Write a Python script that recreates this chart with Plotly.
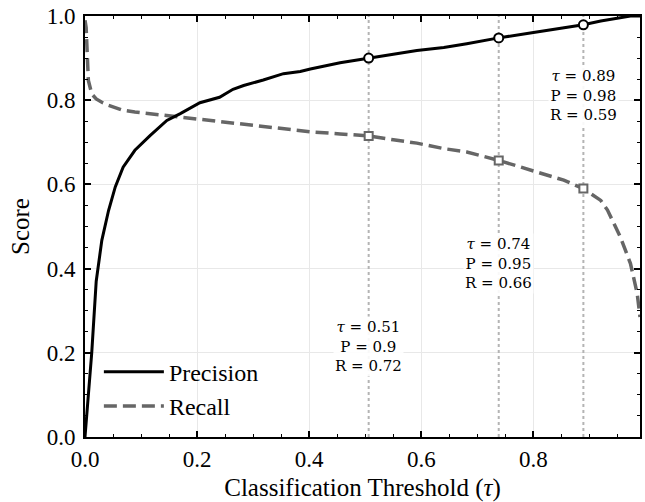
import plotly.graph_objects as go

# ---- data ----
thresholds = [0.0, 0.002, 0.006, 0.012, 0.02, 0.03, 0.042, 0.054, 0.068, 0.089,
              0.116, 0.146, 0.17, 0.205, 0.24, 0.264, 0.283, 0.318, 0.354, 0.384,
              0.402, 0.455, 0.506, 0.55, 0.592, 0.64, 0.681, 0.738, 0.8, 0.854,
              0.889, 0.92, 0.932, 0.955, 0.973, 0.985, 0.99]
precision = [0.0, 0.04, 0.10, 0.20, 0.37, 0.467, 0.538, 0.594, 0.641, 0.681,
             0.716, 0.752, 0.768, 0.794, 0.807, 0.826, 0.835, 0.848, 0.863, 0.868,
             0.874, 0.889, 0.899, 0.909, 0.918, 0.925, 0.934, 0.948, 0.961, 0.971,
             0.979, 0.988, 0.991, 0.997, 1.0, 1.0, 1.0]
recall = [0.99, 0.973, 0.847, 0.815, 0.803, 0.795, 0.788, 0.782, 0.776, 0.772,
          0.768, 0.764, 0.760, 0.755, 0.749, 0.745, 0.743, 0.739, 0.733, 0.728,
          0.725, 0.720, 0.715, 0.706, 0.698, 0.685, 0.677, 0.657, 0.633, 0.610,
          0.590, 0.562, 0.539, 0.475, 0.412, 0.341, 0.285]

sel_tau = [0.506, 0.738, 0.889]
sel_p = [0.90, 0.948, 0.979]
sel_r = [0.715, 0.657, 0.590]
tau_labels = ["0.51", "0.74", "0.89"]
p_labels = ["0.9", "0.95", "0.98"]
r_labels = ["0.72", "0.66", "0.59"]
label_y = [0.214, 0.413, 0.811]

x_ticks = [0.0, 0.2, 0.4, 0.6, 0.8]
y_ticks = [0.0, 0.2, 0.4, 0.6, 0.8, 1.0]

FONT = "Liberation Serif"
ANN_FONT = "DejaVu Serif"
GRAY = "#666666"

fig = go.Figure()

# vertical dotted guides
for t in sel_tau:
    fig.add_trace(go.Scatter(x=[t, t], y=[0, 1], mode="lines",
                             line=dict(color="#b4b4b4", width=2, dash="dot"),
                             showlegend=False, hoverinfo="skip"))

fig.add_trace(go.Scatter(x=thresholds, y=recall, mode="lines", name="Recall",
                         line=dict(color=GRAY, width=3.5, dash="13px,6px"),
                         legendrank=2))
fig.add_trace(go.Scatter(x=thresholds, y=precision, mode="lines", name="Precision",
                         line=dict(color="black", width=3), legendrank=1))

fig.add_trace(go.Scatter(x=sel_tau, y=sel_r, mode="markers", showlegend=False,
                         marker=dict(symbol="square", size=8, color="white",
                                     line=dict(color=GRAY, width=2))))
fig.add_trace(go.Scatter(x=sel_tau, y=sel_p, mode="markers", showlegend=False,
                         marker=dict(symbol="circle", size=9, color="white",
                                     line=dict(color="black", width=2))))

for t, tl, pl, rl, ly in zip(sel_tau, tau_labels, p_labels, r_labels, label_y):
    fig.add_annotation(x=t, y=ly, xref="x", yref="y", showarrow=False,
                       text=f"<i>τ</i> = {tl}<br>P = {pl}<br>R = {rl}",
                       align="center", bgcolor="rgba(255,255,255,0.9)", borderpad=1,
                       font=dict(family=ANN_FONT, size=15, color="black"))

axis_common = dict(showline=True, linecolor="black", linewidth=2, mirror="allticks",
                   ticks="inside", ticklen=6, tickwidth=1.5, tickcolor="black",
                   showgrid=True, gridcolor="#e8e8e8", gridwidth=1, zeroline=False,
                   automargin=False, ticklabeloverflow="allow",
                   tickfont=dict(family=FONT, size=23, color="black"),
                   minor=dict(ticks="inside", ticklen=3, tickwidth=1, tickcolor="black",
                              dtick=0.05, showgrid=False))

fig.update_xaxes(range=[0, 0.99], tickvals=x_ticks, ticktext=[f"{v:.1f}" for v in x_ticks],
                 title=dict(text="Classification Threshold (<i>τ</i>)",
                            font=dict(family=FONT, size=25, color="black"), standoff=8),
                 **axis_common)
fig.update_yaxes(range=[0, 1], tickvals=y_ticks, ticktext=[f"{v:.1f}" for v in y_ticks],
                 ticklabelstandoff=3,
                 title=dict(text="Score", font=dict(family=FONT, size=25, color="black"),
                            standoff=10),
                 **axis_common)

fig.update_layout(width=645, height=502,
                  margin=dict(l=85, r=5, t=16, b=65),
                  plot_bgcolor="white", paper_bgcolor="white",
                  font=dict(family=FONT, color="black"),
                  legend=dict(x=0.025, y=0.02, xanchor="left", yanchor="bottom",
                              bgcolor="rgba(0,0,0,0)", font=dict(family=FONT, size=24),
                              itemwidth=60, tracegroupgap=0))

fig.write_html("out.html", config={"displayModeBar": False},
               post_script="document.body.style.margin='0';")
